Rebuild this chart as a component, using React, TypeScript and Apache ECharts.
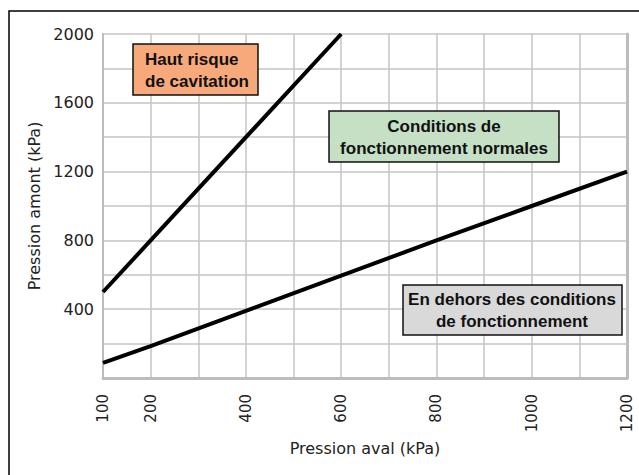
import React, { useEffect, useRef } from "react";
import * as echarts from "echarts";

const xTickLabels = [100, 200, 400, 600, 800, 1000, 1200];
const yTickLabels = [400, 800, 1200, 1600, 2000];
const cavitationLine: [number, number][] = [
  [100, 500],
  [600, 2000],
];
const limitLine: [number, number][] = [
  [100, 88],
  [200, 185],
  [400, 390],
  [600, 595],
  [800, 800],
  [1000, 1000],
  [1200, 1200],
];
const zoneLabels = [
  "Haut risque\nde cavitation",
  "Conditions de\nfonctionnement normales",
  "En dehors des conditions\nde fonctionnement",
];

export default function App() {
  const ref = useRef<HTMLDivElement>(null);
  useEffect(() => {
    if (!ref.current) return;
    const chart = echarts.init(ref.current, null, { renderer: "svg" });
    const gridColor = "#c4c4c4";
    const boxText = {
      fontSize: 17,
      fontWeight: "bold",
      fontFamily: "'Liberation Sans', Arial, sans-serif",
      fill: "#111",
      lineHeight: 22,
      textVerticalAlign: "middle" as const,
    };
    chart.setOption({
      animation: false,
      backgroundColor: "#fff",
      textStyle: { fontFamily: "'DejaVu Sans', sans-serif" },
      grid: { left: 103, right: 12, top: 34, bottom: 97 },
      xAxis: {
        type: "value",
        min: 100,
        max: 1200,
        interval: 100,
        name: "Pression aval (kPa)",
        nameLocation: "middle",
        nameGap: 62,
        nameTextStyle: { fontSize: 16, color: "#222", fontFamily: "'DejaVu Sans', sans-serif" },
        axisLine: { show: true, lineStyle: { color: "#bcbcbc", width: 3 } },
        axisTick: { show: false },
        axisLabel: {
          rotate: 90,
          margin: 16,
          fontSize: 15,
          color: "#222",
          fontFamily: "'DejaVu Sans', sans-serif",
          formatter: (v: number) => (xTickLabels.includes(v) ? String(v) : ""),
        },
        splitLine: { show: true, lineStyle: { color: gridColor, width: 1.5 } },
      },
      yAxis: [
        {
          type: "value",
          min: 0,
          max: 2000,
          interval: 200,
          name: "Pression amont (kPa)",
          nameLocation: "middle",
          nameGap: 59,
          nameTextStyle: { fontSize: 16, color: "#222", fontFamily: "'DejaVu Sans', sans-serif" },
          axisLine: { show: true, lineStyle: { color: "#bcbcbc", width: 2 } },
          axisTick: { show: false },
          axisLabel: {
            margin: 9,
            fontSize: 16,
            color: "#222",
            fontFamily: "'DejaVu Sans', sans-serif",
            formatter: (v: number) => (yTickLabels.includes(v) ? String(v) : ""),
          },
          splitLine: { show: true, lineStyle: { color: gridColor, width: 1.5 } },
        },
        {
          type: "value",
          min: 0,
          max: 2000,
          interval: 200,
          position: "right",
          axisLine: { show: true, lineStyle: { color: "#bcbcbc", width: 3 } },
          axisTick: { show: false },
          axisLabel: { show: false },
          splitLine: { show: false },
        },
      ],
      series: [
        {
          type: "line",
          data: cavitationLine,
          showSymbol: false,
          lineStyle: { color: "#000", width: 4 },
          z: 5,
        },
        {
          type: "line",
          data: limitLine,
          showSymbol: false,
          lineStyle: { color: "#000", width: 4 },
          z: 5,
        },
      ],
      graphic: [
        {
          type: "rect",
          silent: true,
          z: 100,
          shape: { x: 9, y: 11, width: 700, height: 600 },
          style: { fill: "none", stroke: "#000", lineWidth: 1.5 },
        },
        {
          type: "rect",
          z: 100,
          shape: { x: 133, y: 44, width: 125, height: 51 },
          style: { fill: "#f7a97c", stroke: "#111", lineWidth: 1.5 },
        },
        {
          type: "text",
          z: 101,
          x: 145,
          y: 70,
          style: { ...boxText, text: zoneLabels[0], textAlign: "left" },
        },
        {
          type: "rect",
          z: 100,
          shape: { x: 329, y: 111, width: 230, height: 51 },
          style: { fill: "#c5e0c5", stroke: "#111", lineWidth: 1.5 },
        },
        {
          type: "text",
          z: 101,
          x: 444,
          y: 137,
          style: { ...boxText, text: zoneLabels[1], textAlign: "center" },
        },
        {
          type: "rect",
          z: 100,
          shape: { x: 403, y: 285, width: 219, height: 50 },
          style: { fill: "#d9d9d9", stroke: "#111", lineWidth: 1.5 },
        },
        {
          type: "text",
          z: 101,
          x: 512,
          y: 310.5,
          style: { ...boxText, text: zoneLabels[2], textAlign: "center" },
        },
      ],
    });
    return () => chart.dispose();
  }, []);
  return (
    <div
      ref={ref}
      style={{ position: "fixed", left: 0, top: 0, width: 639, height: 475 }}
    />
  );
}
